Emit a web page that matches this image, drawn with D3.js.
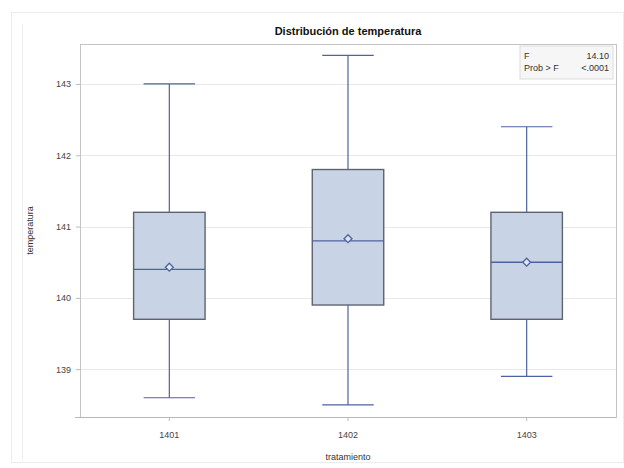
<!DOCTYPE html>
<html>
<head>
<meta charset="utf-8">
<script src="https://cdn.jsdelivr.net/npm/d3@7"></script>
<style>
  body { margin: 0; background: #fff; }
  svg { font-family: "Liberation Sans", Arial, sans-serif; }
</style>
</head>
<body>
<div id="chart"></div>
<script>
// boxplot stats
const groups = ['1401', '1402', '1403'];
const whiskerLow = [138.6, 138.5, 138.9];
const q1 = [139.7, 139.9, 139.7];
const medians = [140.4, 140.8, 140.5];
const means = [140.43, 140.83, 140.5];
const q3 = [141.2, 141.8, 141.2];
const whiskerHigh = [143.0, 143.4, 142.4];
const yTicks = [139, 140, 141, 142, 143];
const statLabels = ['F', 'Prob > F'];
const statValues = ['14.10', '<.0001'];

const W = 624, H = 468;
const margin = { top: 44, right: 8, bottom: 51, left: 80 };
const width = W - margin.left - margin.right;
const height = H - margin.top - margin.bottom;

const data = groups.map((g, i) => ({
  g, lo: whiskerLow[i], q1: q1[i], med: medians[i], mean: means[i], q3: q3[i], hi: whiskerHigh[i]
}));

const svg = d3.select('#chart').append('svg')
  .attr('width', W)
  .attr('height', H);

// faint outer frames
svg.append('rect')
  .attr('x', 11.5).attr('y', 12.5).attr('width', 612).attr('height', 450)
  .attr('fill', 'none').attr('stroke', '#ececec');
svg.append('line')
  .attr('x1', 22.5).attr('x2', 22.5).attr('y1', 24).attr('y2', 462)
  .attr('stroke', '#f0f0f0');

svg.append('text')
  .attr('x', margin.left + width / 2)
  .attr('y', 35)
  .attr('text-anchor', 'middle')
  .style('font-size', '11px')
  .style('font-weight', 'bold')
  .attr('fill', '#111')
  .text('Distribución de temperatura');

const g = svg.append('g')
  .attr('transform', 'translate(' + margin.left + ',' + margin.top + ')');

const x = d3.scaleBand()
  .domain(groups)
  .range([0, width])
  .padding(0);

const y = d3.scaleLinear()
  .domain([138.33, 143.56])
  .range([height, 0]);

// grid
g.selectAll('.grid')
  .data(yTicks)
  .enter().append('line')
  .attr('class', 'grid')
  .attr('x1', 0).attr('x2', width)
  .attr('y1', d => Math.round(y(d)) + 0.5)
  .attr('y2', d => Math.round(y(d)) + 0.5)
  .attr('stroke', '#e8e8e8');

// axes
const yAxis = g.append('g')
  .attr('class', 'y-axis')
  .call(d3.axisLeft(y).tickValues(yTicks).tickSize(4).tickPadding(5).tickFormat(d3.format('d')));
yAxis.select('.domain').remove();
yAxis.selectAll('line').attr('stroke', '#bbb');
yAxis.selectAll('text').style('font-size', '9px').attr('fill', '#444');

const xAxis = g.append('g')
  .attr('class', 'x-axis')
  .attr('transform', 'translate(0,' + height + ')')
  .call(d3.axisBottom(x).tickSize(4).tickPadding(11));
xAxis.select('.domain').remove();
xAxis.selectAll('line').attr('stroke', '#bbb');
xAxis.selectAll('text').style('font-size', '9px').attr('fill', '#444');

// plot frame
g.append('rect')
  .attr('x', 0.5).attr('y', 0.5)
  .attr('width', width).attr('height', height)
  .attr('fill', 'none')
  .attr('stroke', '#c4c4c4');
g.append('line')
  .attr('x1', -5).attr('x2', width)
  .attr('y1', height + 0.5).attr('y2', height + 0.5)
  .attr('stroke', '#b8b8b8');

const boxW = x.bandwidth() * 0.4;
const cx = d => x(d.g) + x.bandwidth() / 2;
const capW = boxW * 0.72;
const blue = '#4f62a0';

const boxes = g.selectAll('.box')
  .data(data)
  .enter().append('g')
  .attr('class', 'box');

boxes.append('line')
  .attr('x1', cx).attr('x2', cx)
  .attr('y1', d => y(d.hi)).attr('y2', d => y(d.q3))
  .attr('stroke', blue).attr('stroke-width', 1.2);
boxes.append('line')
  .attr('x1', cx).attr('x2', cx)
  .attr('y1', d => y(d.q1)).attr('y2', d => y(d.lo))
  .attr('stroke', blue).attr('stroke-width', 1.2);
boxes.append('line')
  .attr('x1', d => cx(d) - capW / 2).attr('x2', d => cx(d) + capW / 2)
  .attr('y1', d => y(d.hi)).attr('y2', d => y(d.hi))
  .attr('stroke', blue).attr('stroke-width', 1.2);
boxes.append('line')
  .attr('x1', d => cx(d) - capW / 2).attr('x2', d => cx(d) + capW / 2)
  .attr('y1', d => y(d.lo)).attr('y2', d => y(d.lo))
  .attr('stroke', blue).attr('stroke-width', 1.2);

boxes.append('rect')
  .attr('x', d => cx(d) - boxW / 2)
  .attr('width', boxW)
  .attr('y', d => y(d.q3))
  .attr('height', d => y(d.q1) - y(d.q3))
  .attr('fill', '#c8d4e6')
  .attr('stroke', '#5e6370')
  .attr('stroke-width', 1.4);

boxes.append('line')
  .attr('x1', d => cx(d) - boxW / 2).attr('x2', d => cx(d) + boxW / 2)
  .attr('y1', d => y(d.med)).attr('y2', d => y(d.med))
  .attr('stroke', blue).attr('stroke-width', 1.4);

boxes.append('path')
  .attr('d', d3.symbol(d3.symbolDiamond2, 40))
  .attr('transform', d => 'translate(' + cx(d) + ',' + y(d.mean) + ')')
  .attr('fill', '#dfe6f2')
  .attr('stroke', blue)
  .attr('stroke-width', 1.3);

// stats inset
const inset = g.append('g')
  .attr('transform', 'translate(' + (width - 96) + ',2)');
inset.append('rect')
  .attr('width', 93).attr('height', 33)
  .attr('fill', '#f6f6f6')
  .attr('stroke', '#dcdcdc');
statLabels.forEach((lab, i) => {
  inset.append('text')
    .attr('x', 4).attr('y', 13 + i * 12)
    .style('font-size', '9px').attr('fill', '#333')
    .text(lab);
  inset.append('text')
    .attr('x', 89).attr('y', 13 + i * 12)
    .attr('text-anchor', 'end')
    .style('font-size', '9px').attr('fill', '#333')
    .text(statValues[i]);
});

// axis titles
svg.append('text')
  .attr('transform', 'rotate(-90)')
  .attr('x', -(margin.top + height / 2))
  .attr('y', 33)
  .attr('text-anchor', 'middle')
  .style('font-size', '9px')
  .attr('fill', '#333')
  .text('temperatura');

svg.append('text')
  .attr('x', margin.left + width / 2)
  .attr('y', 460)
  .attr('text-anchor', 'middle')
  .style('font-size', '9px')
  .attr('fill', '#333')
  .text('tratamiento');
</script>
</body>
</html>
